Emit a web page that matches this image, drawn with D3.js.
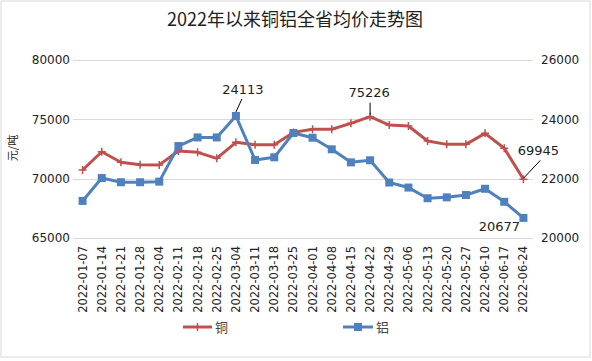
<!DOCTYPE html>
<html>
<head>
<meta charset="utf-8">
<script src="https://cdn.jsdelivr.net/npm/d3@7"></script>
<style>
    body { margin: 0; background: #fff; }
    svg text { font-family: "DejaVu Sans", sans-serif; }
</style>
</head>
<body>
<svg id="chart" width="592" height="361"></svg>
<script>
// weekly dates
var dates = ["2022-01-07", "2022-01-14", "2022-01-21", "2022-01-28", "2022-02-04",
             "2022-02-11", "2022-02-18", "2022-02-25", "2022-03-04", "2022-03-11",
             "2022-03-18", "2022-03-25", "2022-04-01", "2022-04-08", "2022-04-15",
             "2022-04-22", "2022-04-29", "2022-05-06", "2022-05-13", "2022-05-20",
             "2022-05-27", "2022-06-10", "2022-06-17", "2022-06-24"];

// copper, left axis (元/吨)
var copper = [70730, 72270, 71380, 71180, 71160, 72330, 72220, 71710, 73060, 72860,
              72860, 73900, 74160, 74160, 74660, 75226, 74520, 74440, 73170, 72890,
              72890, 73820, 72560, 69945];

// aluminium, right axis
var aluminum = [21250, 22020, 21880, 21880, 21900, 23100, 23390, 23390, 24113, 22630,
                22720, 23540, 23380, 22990, 22550, 22620, 21870, 21700, 21340, 21370,
                21450, 21660, 21220, 20677];

var leftTicks = [65000, 70000, 75000, 80000];
var rightTicks = [20000, 22000, 24000, 26000];

var svg = d3.select("#chart");

svg.append("rect")
    .attr("x", 1).attr("y", 1).attr("width", 589).attr("height", 356)
    .attr("fill", "#fff").attr("stroke", "#d9d9d9");

var x = d3.scaleBand().domain(dates).range([73, 533]);
var yL = d3.scaleLinear().domain([65000, 80000]).range([238, 60]);
var yR = d3.scaleLinear().domain([20000, 26000]).range([238, 60]);
var cx = function(d) { return x(d) + x.bandwidth() / 2; };

// title
svg.append("text")
    .attr("x", 295).attr("y", 20).attr("dy", "0.35em")
    .attr("text-anchor", "middle")
    .style("font-family", "'Noto Sans CJK SC', sans-serif")
    .style("font-size", "18px").attr("fill", "#222")
    .text("2022年以来铜铝全省均价走势图");

// gridlines
svg.append("g").selectAll("line").data(leftTicks).join("line")
    .attr("x1", 73).attr("x2", 533)
    .attr("y1", function(d) { return Math.round(yL(d)) + 0.5; })
    .attr("y2", function(d) { return Math.round(yL(d)) + 0.5; })
    .attr("stroke", "#d9d9d9");

// left axis
var gl = svg.append("g").attr("transform", "translate(70,0)")
    .call(d3.axisLeft(yL).tickValues(leftTicks).tickSize(0).tickPadding(0).tickFormat(d3.format("d")));
gl.select(".domain").remove();
gl.selectAll("text").style("font-size", "12px").attr("fill", "#222");

// right axis
var gr = svg.append("g").attr("transform", "translate(541,0)")
    .call(d3.axisRight(yR).tickValues(rightTicks).tickSize(0).tickPadding(0).tickFormat(d3.format("d")));
gr.select(".domain").remove();
gr.selectAll("text").style("font-size", "12px").attr("fill", "#222");

// y title
svg.append("text")
    .attr("transform", "translate(13,148) rotate(-90)")
    .attr("text-anchor", "middle").attr("dy", "0.35em")
    .style("font-family", "'Noto Sans CJK SC', sans-serif")
    .style("font-size", "11px").attr("fill", "#222")
    .text("元/吨");

// x labels
svg.append("g").selectAll("text").data(dates).join("text")
    .attr("transform", function(d) { return "translate(" + cx(d) + ",246) rotate(-90)"; })
    .attr("text-anchor", "end").attr("dy", "0.35em")
    .style("font-size", "11.5px").attr("fill", "#222")
    .text(function(d) { return d; });

// lines
var lineL = d3.line().x(function(d, i) { return cx(dates[i]); }).y(function(d) { return yL(d); });
var lineR = d3.line().x(function(d, i) { return cx(dates[i]); }).y(function(d) { return yR(d); });

var red = "#c0504d", blue = "#4f81bd";

svg.append("path").datum(copper).attr("d", lineL)
    .attr("fill", "none").attr("stroke", red).attr("stroke-width", 3)
    .attr("stroke-linejoin", "round");
svg.append("g").selectAll("path").data(copper).join("path")
    .attr("transform", function(d, i) { return "translate(" + cx(dates[i]) + "," + yL(d) + ")"; })
    .attr("d", "M-4,0H4M0,-4V4")
    .attr("stroke", red).attr("stroke-width", 1.5);

svg.append("path").datum(aluminum).attr("d", lineR)
    .attr("fill", "none").attr("stroke", blue).attr("stroke-width", 3)
    .attr("stroke-linejoin", "round");
svg.append("g").selectAll("rect").data(aluminum).join("rect")
    .attr("x", function(d, i) { return cx(dates[i]) - 4; })
    .attr("y", function(d) { return yR(d) - 4; })
    .attr("width", 8).attr("height", 8)
    .attr("fill", blue);

// data labels
function label(val, px, py, dx, dy, leader) {
    svg.append("text")
        .attr("x", px + dx).attr("y", py + dy).attr("dy", "0.35em")
        .attr("text-anchor", "middle")
        .style("font-size", "13px").attr("fill", "#222")
        .text(val);
    if (leader) {
        svg.append("line")
            .attr("x1", px + leader[0]).attr("y1", py + leader[1])
            .attr("x2", px + leader[2]).attr("y2", py + leader[3])
            .attr("stroke", "#000").attr("stroke-width", 1);
    }
}
label(aluminum[8], cx(dates[8]), yR(aluminum[8]), 7, -27, [0, -4, 6, -17]);
label(copper[15], cx(dates[15]), yL(copper[15]), -1, -24, [0, -2, 0, -14]);
label(copper[23], cx(dates[23]), yL(copper[23]), 15, -29, [0, -1, 17, -19]);
label(aluminum[23], cx(dates[23]), yR(aluminum[23]), -24, 9, null);

// legend
var lg = svg.append("g");
lg.append("line").attr("x1", 183).attr("x2", 212).attr("y1", 327).attr("y2", 327)
    .attr("stroke", red).attr("stroke-width", 3);
lg.append("path").attr("transform", "translate(197.5,327)").attr("d", "M0,-4V4")
    .attr("stroke", red).attr("stroke-width", 1.5);
lg.append("text").attr("x", 215).attr("y", 327).attr("dy", "0.35em")
    .style("font-family", "'Noto Sans CJK SC', sans-serif")
    .style("font-size", "13px").attr("fill", "#444").text("铜");

lg.append("line").attr("x1", 343).attr("x2", 373).attr("y1", 327).attr("y2", 327)
    .attr("stroke", blue).attr("stroke-width", 3);
lg.append("rect").attr("x", 354).attr("y", 323).attr("width", 8).attr("height", 8)
    .attr("fill", blue);
lg.append("text").attr("x", 376).attr("y", 327).attr("dy", "0.35em")
    .style("font-family", "'Noto Sans CJK SC', sans-serif")
    .style("font-size", "13px").attr("fill", "#444").text("铝");
</script>
</body>
</html>
